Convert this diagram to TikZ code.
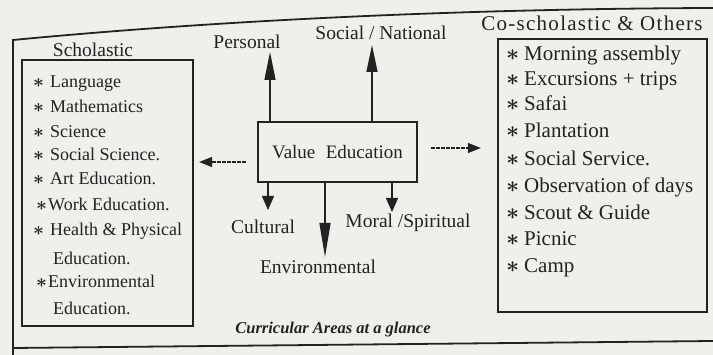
\documentclass[tikz,border=0pt]{standalone}
\usepackage{fontspec}
\usepackage{graphicx}
\setmainfont{Liberation Serif}
\usetikzlibrary{arrows.meta}
\definecolor{paper}{HTML}{EFEFEC}
\definecolor{ink}{HTML}{222222}
\newcommand{\starmark}{\scalebox{1.1}{\boldmath$\ast$}}
\newcommand{\bul}{\makebox[17pt][l]{\starmark}}
\newcommand{\bulnarrow}{\makebox[12pt][l]{\starmark}}
\newcommand{\rbul}{\makebox[18pt][l]{\starmark}}

\begin{document}
\begin{tikzpicture}[x=1pt,y=-1pt,
  every node/.style={text=ink, inner sep=0pt},
  box/.style={draw=ink, line width=2.2pt, rectangle},
  frameline/.style={draw=ink, line width=1.8pt},
  item/.style={anchor=mid west, font=\fontsize{18}{20}\selectfont},
  ritem/.style={anchor=mid west, font=\fontsize{21}{23}\selectfont},
  lbl/.style={font=\fontsize{19.5}{22}\selectfont},
  link/.style={draw=ink, line width=1.3pt},
  longtip/.style={-{Triangle[length=#1,width=11pt]}},
  shorttip/.style={-{Triangle[length=14pt,width=12pt]}},
  sidearrow/.style={link, line width=1.1pt, dash pattern=on 4pt off 1pt,
    -{Triangle[length=13pt,width=10pt]}}
]
\useasboundingbox (0,0) rectangle (713,355);
\fill[paper] (0,0) rectangle (713,355);

% outer frame
\draw[frameline] (13,356) -- (13,40) .. controls (180,24) and (420,9) .. (713,8);
\draw[frameline] (13,348) -- (713,341);

% titles
\node[font=\fontsize{19.5}{22}\selectfont] (stitle) at (93,50) {Scholastic};
\node[font=\fontsize{21}{24}\selectfont\addfontfeatures{LetterSpace=6}] (ctitle) at (592,23) {Co-scholastic \& Others};

% scholastic box and list
\node[box, minimum width=171, minimum height=266] (lbox) at (107.5,193) {};
\node[item] (l1) at (33,85) {\bul Language};
\node[item] (l2) at (33,110) {\bul Mathematics};
\node[item] (l3) at (33,135) {\bul Science};
\node[item] (l4) at (33,158) {\bul Social Science.};
\node[item] (l5) at (33,182) {\bul Art Education.};
\node[item] (l6) at (36,208) {\bulnarrow Work Education.};
\node[item] (l7) at (33,233) {\bul Health \& Physical};
\node[item] (l8) at (53,262) {Education.};
\node[item] (l9) at (36,285) {\bulnarrow Environmental};
\node[item] (l10) at (53,312) {Education.};

% co-scholastic box and list
\node[box, minimum width=209, minimum height=273] (rbox) at (602.5,175.5) {};
\node[ritem] (r1) at (506,58) {\rbul Morning assembly};
\node[ritem] (r2) at (506,83) {\rbul Excursions + trips};
\node[ritem] (r3) at (506,108) {\rbul Safai};
\node[ritem] (r4) at (506,135) {\rbul Plantation};
\node[ritem] (r5) at (506,163) {\rbul Social Service.};
\node[ritem] (r6) at (506,190) {\rbul Observation of days};
\node[ritem] (r7) at (506,217) {\rbul Scout \& Guide};
\node[ritem] (r8) at (506,243) {\rbul Picnic};
\node[ritem] (r9) at (506,270) {\rbul Camp};

% central box
\node[box, minimum width=159, minimum height=60, font=\fontsize{19}{22}\selectfont]
  (ve) at (337.5,152) {Value\hspace{0.55em}Education};

% value labels
\node[lbl] (pers) at (247,42) {Personal};
\node[lbl] (soc) at (381,33) {Social / National};
\node[lbl] (cult) at (263,227) {Cultural};
\node[lbl] (moral) at (408,223) {Moral /Spiritual};
\node[lbl] (env) at (318,267) {Environmental};

% arrow ends
\coordinate (pTip) at (270,52);
\coordinate (sTip) at (372,45);
\coordinate (cTip) at (268,210);
\coordinate (mTip) at (392,212);
\coordinate (eTip) at (325,257);

\draw[link, longtip=28pt] (ve.north -| pTip) -- (pTip);
\draw[link, longtip=27pt] (ve.north -| sTip) -- (sTip);
\draw[link, shorttip] (ve.south -| cTip) -- (cTip);
\draw[link, shorttip] (ve.south -| mTip) -- (mTip);
\draw[link, longtip=34pt] (ve.south -| eTip) -- (eTip);

% side arrows
\path ([xshift=-11pt,yshift=-10pt]ve.west) coordinate (lS);
\draw[sidearrow] (lS) -- ([xshift=5pt]lS -| lbox.east);
\path ([xshift=13pt,yshift=4pt]ve.east) coordinate (rS);
\draw[sidearrow] (rS) -- ([xshift=-16pt]rS -| rbox.west);

% caption
\node[font=\fontsize{16.5}{18}\selectfont\bfseries\itshape] (cap) at (333,330)
  {Curricular Areas at a glance};
\end{tikzpicture}
\end{document}
